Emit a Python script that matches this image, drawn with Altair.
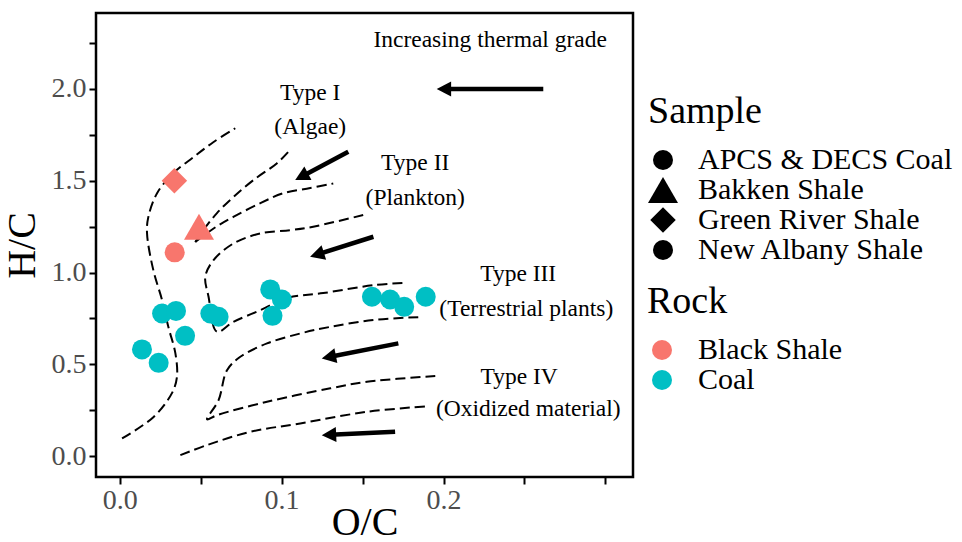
import math
import altair as alt
import pandas as pd

# ---------------- data ----------------
sample_levels = ["APCS & DECS Coal", "Bakken Shale", "Green River Shale", "New Albany Shale"]
rock_levels = ["Black Shale", "Coal"]

pt_sample = ["Green River Shale", "Bakken Shale", "New Albany Shale"] + ["APCS & DECS Coal"] * 14
pt_rock = ["Black Shale"] * 3 + ["Coal"] * 14
pt_oc = [0.0338, 0.049, 0.034,
         0.0262, 0.0348, 0.0404, 0.0138, 0.0241, 0.056, 0.0611,
         0.093, 0.1002, 0.0944, 0.1558, 0.167, 0.1757, 0.189]
pt_hc = [1.50, 1.25, 1.11,
         0.777, 0.791, 0.655, 0.581, 0.508, 0.777, 0.759,
         0.908, 0.853, 0.764, 0.868, 0.853, 0.813, 0.868]

# dashed boundary curves (O/C, H/C)
curve_a_oc = [0.0015, 0.0208, 0.0323, 0.0354, 0.0344, 0.0301, 0.0262, 0.0208, 0.0169, 0.0177, 0.0231, 0.0331, 0.0455, 0.0578, 0.0714]
curve_a_hc = [0.096, 0.212, 0.343, 0.432, 0.561, 0.703, 0.850, 1.013, 1.215, 1.302, 1.432, 1.541, 1.628, 1.710, 1.786]
curve_b_oc = [0.0467, 0.0517, 0.0601, 0.0702, 0.0825, 0.0972, 0.1040]
curve_b_hc = [1.166, 1.231, 1.324, 1.411, 1.503, 1.596, 1.656]
curve_c_oc = [0.0467, 0.0580, 0.0702, 0.0869, 0.1010, 0.1177, 0.1319]
curve_c_hc = [1.166, 1.240, 1.303, 1.378, 1.432, 1.460, 1.485]
curve_d_oc = [0.1504, 0.1180, 0.1056, 0.0869, 0.0704, 0.0580, 0.0529, 0.0549, 0.0601, 0.0702, 0.0869, 0.1033, 0.1257, 0.1566, 0.1774]
curve_d_hc = [1.313, 1.247, 1.231, 1.213, 1.159, 1.068, 0.977, 0.868, 0.677, 0.731, 0.795, 0.861, 0.888, 0.931, 0.944]
curve_e_oc = [0.1949, 0.1527, 0.1301, 0.0910, 0.0601, 0.0540, 0.0611, 0.0663, 0.0745, 0.0910, 0.1115, 0.1301, 0.1566, 0.1844]
curve_e_hc = [0.436, 0.405, 0.369, 0.296, 0.223, 0.200, 0.305, 0.468, 0.541, 0.614, 0.668, 0.704, 0.741, 0.757]
curve_f_oc = [0.0375, 0.0540, 0.0807, 0.1115, 0.1527, 0.1907]
curve_f_hc = [0.005, 0.060, 0.132, 0.178, 0.241, 0.272]

# arrows: tail -> tip
arrow_tail_oc = [0.2616, 0.1412, 0.1567, 0.1721, 0.1701]
arrow_tail_hc = [2.000, 1.658, 1.195, 0.614, 0.132]
arrow_tip_oc = [0.1958, 0.1084, 0.1176, 0.1248, 0.1248]
arrow_tip_hc = [2.000, 1.504, 1.086, 0.532, 0.114]

# annotations
ann_text = ["Increasing thermal grade", "Type I", "(Algae)", "Type II", "(Plankton)",
            "Type III", "(Terrestrial plants)", "Type IV", "(Oxidized material)"]
ann_oc = [0.2288, 0.1177, 0.1177, 0.1825, 0.1825, 0.2461, 0.2511, 0.2467, 0.2523]
ann_hc = [2.266, 1.977, 1.792, 1.596, 1.405, 0.991, 0.801, 0.430, 0.256]

# ---------------- chart ----------------
FONT = "Liberation Serif"
W, H = 537, 464
XDOM = [-0.0146, 0.317]
YDOM = [-0.114, 2.414]
SX = W / (XDOM[1] - XDOM[0])
SY = H / (YDOM[1] - YDOM[0])

x_ticks = [0.0, 0.05, 0.1, 0.15, 0.2, 0.25, 0.3]
y_ticks = [0.0, 0.25, 0.5, 0.75, 1.0, 1.25, 1.5, 1.75, 2.0, 2.25]

xscale = alt.Scale(domain=XDOM, nice=False, zero=False)
yscale = alt.Scale(domain=YDOM, nice=False, zero=False)

common_axis = dict(domain=False, grid=False, tickSize=7, tickWidth=2, tickColor="black",
                   labelFont=FONT, labelFontSize=28, labelColor="#4D4D4D",
                   labelOverlap=False, labelFlush=False,
                   titleFont=FONT, titleFontSize=40, titleFontWeight="normal",
                   titleColor="black", titleBaseline="middle")

xaxis = alt.Axis(values=x_ticks, labelPadding=2,
                 labelExpr="abs(datum.value*10 - round(datum.value*10)) < 0.001 && datum.value < 0.25 ? format(datum.value, '.1f') : ''",
                 titleX=W / 2, titleY=45, **common_axis)
yaxis = alt.Axis(values=y_ticks, labelPadding=3,
                 labelExpr="abs(datum.value*2 - round(datum.value*2)) < 0.001 && datum.value < 2.2 ? format(datum.value, '.1f') : ''",
                 titleX=-74, titleY=H / 2, titleAngle=270, **common_axis)

X = alt.X("oc:Q", scale=xscale, axis=xaxis, title="O/C")
Y = alt.Y("hc:Q", scale=yscale, axis=yaxis, title="H/C")

# curves
rows = []
for name, xs, ys in [("a", curve_a_oc, curve_a_hc), ("b", curve_b_oc, curve_b_hc),
                     ("c", curve_c_oc, curve_c_hc), ("d", curve_d_oc, curve_d_hc),
                     ("e", curve_e_oc, curve_e_hc), ("f", curve_f_oc, curve_f_hc)]:
    for i, (a, b) in enumerate(zip(xs, ys)):
        rows.append({"curve": name, "i": i, "oc": a, "hc": b})
curves_df = pd.DataFrame(rows)

curves = alt.Chart(curves_df).mark_line(color="black", strokeWidth=2, strokeDash=[10, 5],
                                        interpolate="catmull-rom").encode(
    x=X, y=Y, detail="curve:N", order="i:Q")

# arrows
HEAD_SIZE = 230
head_len = 1.9 * math.sqrt(HEAD_SIZE) / 2
arows = []
for tx, ty, px, py in zip(arrow_tail_oc, arrow_tail_hc, arrow_tip_oc, arrow_tip_hc):
    dxp = (px - tx) * SX
    dyp = -(py - ty) * SY
    L = math.hypot(dxp, dyp)
    ang = math.degrees(math.atan2(-dyp, -dxp)) % 360
    f = (head_len * 0.6) / L
    arows.append({"oc": tx, "hc": ty, "oc2": px + (tx - px) * f, "hc2": py + (ty - py) * f,
                  "tip_oc": px, "tip_hc": py, "angle": ang})
arrows_df = pd.DataFrame(arows)

shafts = alt.Chart(arrows_df).mark_rule(color="black", strokeWidth=4.5).encode(
    x=X, y=Y, x2="oc2:Q", y2="hc2:Q")
heads = alt.Chart(arrows_df).mark_point(shape="M0,0L1.9,-1L1.9,1Z", filled=True, color="black",
                                        opacity=1, size=HEAD_SIZE, strokeWidth=0).encode(
    x=alt.X("tip_oc:Q", scale=xscale, axis=xaxis, title="O/C"),
    y=alt.Y("tip_hc:Q", scale=yscale, axis=yaxis, title="H/C"),
    angle=alt.Angle("angle:Q", scale=None))

ann_df = pd.DataFrame({"oc": ann_oc, "hc": ann_hc, "text": ann_text})
texts = alt.Chart(ann_df).mark_text(font=FONT, fontSize=23.5, color="black",
                                    align="center", baseline="middle").encode(
    x=X, y=Y, text="text:N")

legend_text = dict(titleFont=FONT, titleFontSize=38, titleFontWeight="normal", titleColor="black",
                   labelFont=FONT, labelFontSize=30, labelColor="black", labelLimit=500,
                   rowPadding=0, titlePadding=14, symbolStrokeWidth=0)

pts_df = pd.DataFrame({"oc": pt_oc, "hc": pt_hc, "Sample": pt_sample, "Rock": pt_rock})
sample_legend = alt.Legend(title="Sample", orient="none", legendX=552, legendY=80,
                           symbolFillColor="black", symbolStrokeColor="black",
                           labelOffset=20, **legend_text)
points = alt.Chart(pts_df).mark_point(filled=True, opacity=1, strokeWidth=0).encode(
    x=X, y=Y,
    color=alt.Color("Rock:N", scale=alt.Scale(domain=rock_levels, range=["#F8766D", "#00BFC4"]),
                    legend=alt.Legend(title="Rock", orient="none", legendX=551, legendY=270,
                                      symbolType="circle", symbolSize=400,
                                      labelOffset=21, **legend_text)),
    shape=alt.Shape("Sample:N", scale=alt.Scale(domain=sample_levels,
                                                range=["circle", "triangle-up", "diamond", "circle"]),
                    legend=sample_legend),
    size=alt.Size("Sample:N", scale=alt.Scale(type="ordinal", domain=sample_levels,
                                              range=[400, 900, 650, 400]),
                  legend=sample_legend),
)

chart = alt.layer(curves, shafts, heads, texts, points).properties(
    width=W, height=H,
    background="white",
    autosize=alt.AutoSizeParams(type="none"),
    padding={"left": 96, "top": 13, "right": 962 - 96 - W, "bottom": 542 - 13 - H},
).configure_view(stroke="black", strokeWidth=2.5)

chart.save("out.html", embed_options={"renderer": "svg", "actions": False})
